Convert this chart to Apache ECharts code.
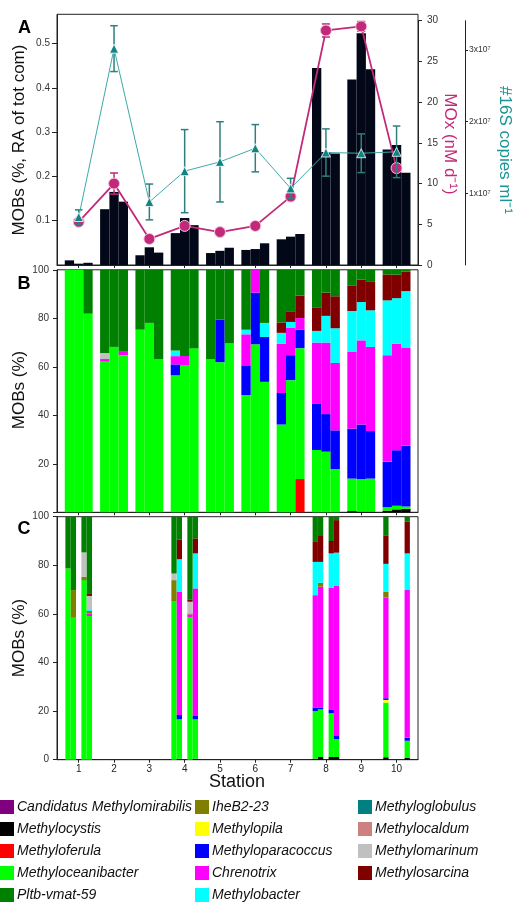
<!DOCTYPE html>
<html><head><meta charset="utf-8">
<script src="https://cdn.jsdelivr.net/npm/echarts@6/dist/echarts.min.js"></script>
<style>html,body{margin:0;padding:0;background:#fff}#c{width:513px;height:902px}</style>
</head><body><div id="c"></div><script>
// ---------------- DATA ----------------
const stations = [1, 2, 3, 4, 5, 6, 7, 8, 9, 10];
const xTickLabels = ['1', '2', '3', '4', '5', '6', '7', '8', '9', '10'];

// Panel A: MOB relative abundance (3 samples per station)
const mobRA = [0.0105, 0.003, 0.005, 0.126, 0.165, 0.143, 0.022, 0.040, 0.028, 0.072, 0.106, 0.090,
  0.027, 0.032, 0.039, 0.034, 0.036, 0.049, 0.058, 0.064, 0.070, 0.445, 0.255, 0.252,
  0.419, 0.523, 0.442, 0.261, 0.271, 0.208];
const moxRate = [5.3, 10.0, 3.2, 4.8, 4.05, 4.8, 8.4, 28.8, 29.3, 11.9];
const moxErr = [0.3, 1.3, 0, 0.4, 0, 0, 0.4, 0.8, 0.6, 0.5];
const copies16S = [0.67e7, 3.02e7, 0.88e7, 1.31e7, 1.44e7, 1.63e7, 1.07e7, 1.57e7, 1.56e7, 1.58e7];
const copies16SErr = [0.1e7, 0.32e7, 0.25e7, 0.58e7, 0.56e7, 0.33e7, 0.14e7, 0.33e7, 0.27e7, 0.36e7];
const raTicks = [0.1, 0.2, 0.3, 0.4, 0.5];
const moxTicks = [0, 5, 10, 15, 20, 25, 30];
const s16Ticks = [1e7, 2e7, 3e7];
const s16TickLabels = ['1x10\u2077', '2x10\u2077', '3x10\u2077'];
const pctTicksB = [20, 40, 60, 80, 100];
const pctTicksC = [0, 20, 40, 60, 80, 100];

// Panel B: composition (%) of 3 samples per station
const B_Methylocystis      = [0,0,0, 0,0,0, 0,0,0, 0,0,0, 0,0,0, 0,0,0, 0,0,0, 0,0,0, 0.5,0.3,0.3, 0.7,1.2,1.4];
const B_Methyloferula      = [0,0,0, 0,0,0, 0,0,0, 0,0,0, 0,0,0, 0,0,0, 0,0,13.7, 0,0,0, 0,0,0, 0,0,0];
const B_Methyloceanibacter = [100,100,81.9, 62.1,68.2,64.7, 75.3,78.1,63.2, 56.5,60.5,67.6, 63.2,61.9,69.8, 48.3,69.3,53.8, 36.2,54.5,54.0, 25.7,25.0,17.8, 13.4,13.4,13.6, 1.4,1.5,1.0];
const B_Methylopila        = [0,0,0, 0,0,0, 0,0,0, 0,0,0, 0,0,0, 0,0,0, 0,0,0, 0,0,0, 0,0,0, 0,0,0];
const B_Methyloparacoccus  = [0,0,0, 0,0,0, 0,0,0, 4.5,0,0, 0,17.6,0, 12.3,21.3,18.5, 13.0,10.3,7.7, 19.2,15.5,16.0, 20.6,22.5,19.6, 18.7,22.9,25.0];
const B_Chrenotrix         = [0,0,0, 1.1,0,1.8, 0,0,0, 3.4,4.0,0, 0,0,0, 12.8,9.4,0, 20.3,11.4,4.7, 25.1,29.5,27.8, 31.6,34.7,34.7, 44.0,43.9,40.6];
const B_IheB2_23           = [0,0,0, 0,0,0, 0,0,0, 0,0,0, 0,0,0, 0,0,0, 0,0,0, 0,0,0, 0,0,0, 0,0,0];
const B_Methylobacter      = [0,0,0, 0,0,0, 0,0,0, 2.3,0,0, 0,0,0, 1.9,0,5.8, 4.5,2.3,0, 4.8,11.0,14.3, 16.9,15.8,15.1, 22.6,18.8,23.2];
const B_Methylomarinum     = [0,0,0, 2.5,0,0, 0,0,0, 0,0,0, 0,0,0, 0,0,0, 0,0,0, 0,0,0, 0,0,0, 0,0,0];
const B_Methylosarcina     = [0,0,0, 0,0,0, 0,0,0, 0,0,0, 0,0,0, 0,0,0, 4.3,4.4,9.3, 9.5,9.6,13.2, 10.6,9.2,11.7, 10.7,9.7,8.0];
const B_Pltb_vmat_59       = [0,0,18.1, 34.3,31.8,33.5, 24.7,21.9,36.8, 33.3,35.5,32.4, 36.8,20.5,30.2, 24.7,0,21.9, 21.7,17.1,10.6, 15.7,9.4,10.9, 6.4,4.1,5.0, 1.9,2.0,0.8];
const B_Zero               = [0,0,0, 0,0,0, 0,0,0, 0,0,0, 0,0,0, 0,0,0, 0,0,0, 0,0,0, 0,0,0, 0,0,0];

// Panel C: composition (%) of the sub-samples that exist
const cStation = [1, 1, 1, 1, 4, 4, 4, 4, 8, 8, 8, 8, 10, 10];
const cSlot    = [-2, -1, 1, 2, -2, -1, 1, 2, -2, -1, 1, 2, -2, 2];
const C_Methylocystis      = [0,0,0,0, 0,0.4,0,0.4, 0.4,1.1,1.1,1.1, 1.0,0.7];
const C_Methyloferula      = [0,0,0,0, 0,0,0,0, 0,0,0,0, 0,0];
const C_Methyloceanibacter = [78.7,58.4,73.9,59.1, 65.3,16.2,58.6,16.2, 19.6,19.6,18.0,7.3, 22.5,7.1];
const C_Methylopila        = [0,0,0,0, 0,0,0,0, 0,0,0,0, 1.1,0];
const C_Methyloparacoccus  = [0,0,0,0, 0,1.8,0,1.4, 1.5,0.8,1.6,1.4, 0.7,1.2];
const C_Chrenotrix         = [0,0,0,1.1, 0,50.8,1.2,52.5, 46.2,49.7,50.1,61.7, 41.4,60.8];
const C_IheB2_23           = [0,11.4,1.4,1.0, 8.6,0,0.4,0, 0,1.6,0,0, 2.5,0];
const C_Methylobacter      = [0,0,0,0.4, 0,13.3,0,14.4, 13.7,8.6,14.1,13.7, 11.4,15.1];
const C_Methylomarinum     = [0,0,10.0,5.8, 2.7,0,4.8,0, 0,0,0,0, 0,0];
const C_Methylosarcina     = [0,0,0,1.1, 0,8.0,1.0,6.2, 8.5,11.0,5.1,13.4, 11.5,13.0];
const C_Pltb_vmat_59       = [21.3,30.2,14.7,31.5, 23.4,9.5,34.0,8.9, 10.1,7.6,10.0,1.4, 7.9,2.1];
const C_Zero               = [0,0,0,0, 0,0,0,0, 0,0,0,0, 0,0];

// taxa in stacking order (bottom -> top)
const taxa = [
  ['Methylocystis', '#000000', B_Methylocystis, C_Methylocystis],
  ['Methyloferula', '#ff0000', B_Methyloferula, C_Methyloferula],
  ['Methyloceanibacter', '#00ff00', B_Methyloceanibacter, C_Methyloceanibacter],
  ['Methylopila', '#ffff00', B_Methylopila, C_Methylopila],
  ['Methyloparacoccus', '#0000ff', B_Methyloparacoccus, C_Methyloparacoccus],
  ['Chrenotrix', '#ff00ff', B_Chrenotrix, C_Chrenotrix],
  ['IheB2-23', '#808000', B_IheB2_23, C_IheB2_23],
  ['Methylobacter', '#00ffff', B_Methylobacter, C_Methylobacter],
  ['Methylomarinum', '#c0c0c0', B_Methylomarinum, C_Methylomarinum],
  ['Methylosarcina', '#800000', B_Methylosarcina, C_Methylosarcina],
  ['Pltb-vmat-59', '#008000', B_Pltb_vmat_59, C_Pltb_vmat_59],
  ['Candidatus Methylomirabilis', '#800080', B_Zero, C_Zero],
  ['Methyloglobulus', '#008080', B_Zero, C_Zero],
  ['Methylocaldum', '#cd8080', B_Zero, C_Zero]
];
const legendCol1 = ['Candidatus Methylomirabilis', 'Methylocystis', 'Methyloferula', 'Methyloceanibacter', 'Pltb-vmat-59'];
const legendCol2 = ['IheB2-23', 'Methylopila', 'Methyloparacoccus', 'Chrenotrix', 'Methylobacter'];
const legendCol3 = ['Methyloglobulus', 'Methylocaldum', 'Methylomarinum', 'Methylosarcina'];

// ---------------- LAYOUT / STYLE ----------------
const FONT = '"Liberation Sans", Arial, Helvetica, sans-serif';
const AXC = '#222';
const MOXC = '#c2297a';
const TEALL = '#3fa9a9', TEALD = '#138282', TEALE = '#2f7f7f', TEALT = '#1a9494';
const XMIN = 0.385, XMAX = 10.607;
const subOffsets = [-0.263, 0, 0.263];
const slotStep = 0.151;
const GL = 57, GR = 95;

const xAB = [];
stations.forEach(s => subOffsets.forEach(o => xAB.push(s + o)));
const xC = cStation.map((s, i) => s + cSlot[i] * slotStep);

function xAx(grid, labels) {
  return {
    type: 'value', gridIndex: grid, min: XMIN, max: XMAX, show: grid !== 1,
    splitLine: {show: false},
    axisLine: {show: true, onZero: false, lineStyle: {color: AXC, width: 1}},
    axisTick: {show: true, customValues: stations, length: 3, lineStyle: {color: AXC}},
    axisLabel: labels ? {show: true, customValues: stations, formatter: v => xTickLabels[stations.indexOf(v)],
      fontSize: 10, margin: 5, color: AXC, fontFamily: FONT} : {show: false}
  };
}
function yPct(grid, labs) {
  return {
    type: 'value', gridIndex: grid, min: 0, max: 100, position: 'left',
    splitLine: {show: false},
    axisLine: {show: true, lineStyle: {color: AXC}},
    axisTick: {show: true, customValues: pctTicksC, length: 4, lineStyle: {color: AXC}},
    axisLabel: {show: true, customValues: labs, fontSize: 10, margin: 8, color: '#333', fontFamily: FONT}
  };
}
function errRender(color, half, lw) {
  return function (params, api) {
    const x = api.value(0), y = api.value(1), e = api.value(2);
    if (!e) return null;
    const t = api.coord([x, y + e]), b = api.coord([x, y - e]);
    const st = {stroke: color, lineWidth: lw};
    return {type: 'group', children: [
      {type: 'line', shape: {x1: t[0], y1: t[1], x2: b[0], y2: b[1]}, style: st},
      {type: 'line', shape: {x1: t[0] - half, y1: t[1], x2: t[0] + half, y2: t[1]}, style: st},
      {type: 'line', shape: {x1: b[0] - half, y1: b[1], x2: b[0] + half, y2: b[1]}, style: st}
    ]};
  };
}
function txt(t, x, y, size, color, rot, weight) {
  return {type: 'text', x: x, y: y, rotation: rot || 0, silent: true, z: 100,
    style: {text: t, fill: color, font: (weight || 'normal') + ' ' + size + 'px ' + FONT,
      align: 'center', verticalAlign: 'middle', textAlign: 'center', textVerticalAlign: 'middle'}};
}

const series = [];
series.push({type: 'bar', name: 'MOB RA', xAxisIndex: 0, yAxisIndex: 0, barWidth: 9.3, z: 2,
  data: xAB.map((x, i) => [x, mobRA[i]]), itemStyle: {color: '#020817'}, legendHoverLink: false});
series.push({type: 'custom', name: 'MOx err', xAxisIndex: 1, yAxisIndex: 1, z: 3,
  renderItem: errRender(MOXC, 4, 1.5), data: stations.map((s, i) => [s, moxRate[i], moxErr[i]]),
  encode: {x: 0, y: 1}});
series.push({type: 'line', name: 'MOx', xAxisIndex: 1, yAxisIndex: 1, z: 4,
  data: stations.map((s, i) => [s, moxRate[i]]), symbol: 'circle', symbolSize: 11,
  lineStyle: {color: MOXC, width: 1.8}, itemStyle: {color: MOXC, borderColor: '#f2c6dc', borderWidth: 1}});
series.push({type: 'custom', name: '16S err', xAxisIndex: 1, yAxisIndex: 2, z: 5,
  renderItem: errRender(TEALE, 3.8, 1.5), data: stations.map((s, i) => [s, copies16S[i], copies16SErr[i]]),
  encode: {x: 0, y: 1}});
series.push({type: 'line', name: '16S', xAxisIndex: 1, yAxisIndex: 2, z: 6,
  data: stations.map((s, i) => [s, copies16S[i]]), symbol: 'triangle', symbolSize: 9,
  lineStyle: {color: TEALL, width: 1}, itemStyle: {color: TEALD, borderColor: '#ffffff', borderWidth: 0.8}});

// stacked bars: value first in each datum so the stack runs on the y dimension
taxa.forEach(t => {
  series.push({type: 'bar', name: t[0], xAxisIndex: 2, yAxisIndex: 3, stack: 'B', barWidth: 9.3,
    encode: {x: 1, y: 0},
    data: xAB.map((x, i) => [t[2][i], x]), itemStyle: {color: t[1]}});
});
taxa.forEach(t => {
  series.push({type: 'bar', name: t[0], xAxisIndex: 3, yAxisIndex: 4, stack: 'C', barWidth: 5.3,
    encode: {x: 1, y: 0},
    data: xC.map((x, i) => [t[3][i], x]), itemStyle: {color: t[1]}});
});

function legendCol(data, left) {
  return {data: data, left: left, top: 800, orient: 'vertical', icon: 'rect', itemWidth: 14, itemHeight: 14,
    itemGap: 8, padding: 0, selectedMode: false,
    textStyle: {fontStyle: 'italic', fontSize: 14, lineHeight: 14, color: '#111', fontFamily: FONT, padding: [0, 0, 0, -2]}};
}

const option = {
  animation: false,
  backgroundColor: '#ffffff',
  textStyle: {fontFamily: FONT},
  grid: [
    {left: GL, right: GR, top: 14.3, height: 250.7, show: true, borderColor: AXC, borderWidth: 1, outerBoundsMode: 'none', containLabel: false},
    {left: GL, right: GR, top: 20.7, height: 244.3, show: false, outerBoundsMode: 'none', containLabel: false},
    {left: GL, right: GR, top: 269.8, height: 242.5, show: true, borderColor: AXC, borderWidth: 1, outerBoundsMode: 'none', containLabel: false},
    {left: GL, right: GR, top: 516.7, height: 243, show: true, borderColor: AXC, borderWidth: 1, outerBoundsMode: 'none', containLabel: false}
  ],
  xAxis: [xAx(0, false), xAx(1, false), xAx(2, false), xAx(3, true)],
  yAxis: [
    {type: 'value', gridIndex: 0, min: 0, max: 0.566, position: 'left', splitLine: {show: false},
      axisLine: {show: true, lineStyle: {color: AXC}},
      axisTick: {show: true, customValues: raTicks, length: 5, lineStyle: {color: AXC}},
      axisLabel: {show: true, customValues: raTicks, formatter: v => v.toFixed(1), fontSize: 10, margin: 7, color: '#333', fontFamily: FONT}},
    {type: 'value', gridIndex: 1, min: 0, max: 30, position: 'right', splitLine: {show: false},
      axisLine: {show: true, lineStyle: {color: AXC}},
      axisTick: {show: true, customValues: moxTicks, length: 4, lineStyle: {color: AXC}},
      axisLabel: {show: true, customValues: moxTicks, fontSize: 10, margin: 9, color: '#333', fontFamily: FONT}},
    {type: 'value', gridIndex: 1, min: 0, max: 3.41e7, position: 'right', offset: 47, splitLine: {show: false},
      axisLine: {show: true, lineStyle: {color: AXC}},
      axisTick: {show: true, customValues: s16Ticks, length: 3, lineStyle: {color: AXC}},
      axisLabel: {show: true, customValues: s16Ticks, formatter: v => s16TickLabels[s16Ticks.indexOf(v)], fontSize: 8.5, margin: 4, color: '#333', fontFamily: FONT}},
    yPct(2, pctTicksB),
    yPct(3, pctTicksC)
  ],
  legend: [legendCol(legendCol1, 0), legendCol(legendCol2, 195), legendCol(legendCol3, 358)],
  series: series,
  graphic: [
    txt('A', 24.5, 28, 18, '#000', 0, 'bold'),
    txt('B', 24, 284, 18, '#000', 0, 'bold'),
    txt('C', 24, 529, 18, '#000', 0, 'bold'),
    txt('MOBs (%, RA of tot com)', 19.5, 140, 17, '#111', Math.PI / 2),
    txt('MOBs (%)', 19, 390, 17, '#111', Math.PI / 2),
    txt('MOBs (%)', 19, 638, 17, '#111', Math.PI / 2),
    txt('MOx (nM d\u207B\u00B9)', 450, 144, 17, MOXC, -Math.PI / 2),
    txt('#16S copies ml\u207B\u00B9', 505, 150, 17, TEALT, -Math.PI / 2),
    txt('Station', 237, 782, 18, '#111', 0)
  ]
};
const chart = echarts.init(document.getElementById('c'), null, {renderer: 'canvas'});
chart.setOption(option);
</script></body></html>
